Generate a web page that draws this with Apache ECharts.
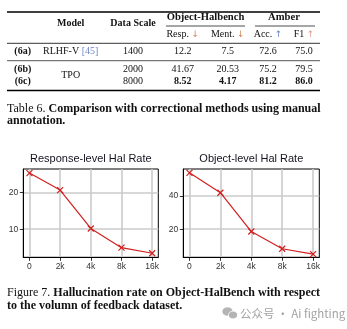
<!DOCTYPE html>
<html>
<head>
<meta charset="utf-8">
<script src="https://cdn.jsdelivr.net/npm/echarts@6/dist/echarts.min.js"></script>
<style>
html,body{margin:0;padding:0;background:#fff;}
#c{width:347px;height:329px;}
</style>
</head>
<body>
<div id="c"></div>
<script>
// ---- chart data ----
const xLabels = ['0', '2k', '4k', '8k', '16k'];
const responseRate = [25.2, 20.6, 10.2, 5.0, 3.5];
const objectRate = [53.7, 41.8, 18.6, 8.3, 5.1];
const respTicks = [10, 20];
const objTicks = [20, 40];
const chartTitles = ['Response-level Hal Rate', 'Object-level Hal Rate'];

// ---- table data ----
const rowIds = ['(6a)', '(6b)', '(6c)'];
const dataScale = ['1400', '2000', '8000'];
const respVals = ['12.2', '41.67', '8.52'];
const mentVals = ['7.5', '20.53', '4.17'];
const accVals = ['72.6', '75.2', '81.2'];
const f1Vals = ['75.0', '79.5', '86.0'];
const boldRow = [false, false, true];

const SERIF = '"Liberation Serif", "Times New Roman", serif';
const SANS = '"Liberation Sans", Arial, sans-serif';

const chart = echarts.init(document.getElementById('c'), null, {renderer: 'canvas'});

function txt(text, x, y, opts) {
  opts = opts || {};
  return {
    type: 'text', silent: true,
    style: Object.assign({
      text: text, x: x, y: y,
      fontFamily: SERIF, fontSize: 10, fontWeight: 'normal',
      fill: '#111', align: 'center', verticalAlign: 'middle'
    }, opts)
  };
}
function hline(x1, x2, y, w, c) {
  return {type: 'line', silent: true, shape: {x1: x1, y1: y, x2: x2, y2: y},
    style: {stroke: c || '#000', lineWidth: w}};
}

const colX = {id: 22.7, model: 70.7, scale: 133, resp: 182.7, ment: 227.7, acc: 268, f1: 304};
const rowY = [51.7, 69.3, 81];
const g = [];
// rules
g.push(hline(7, 320, 12, 1.3));
g.push(hline(166, 245, 26, 0.7));
g.push(hline(255, 315, 26, 0.7));
g.push(hline(7, 320, 43.3, 0.8));
g.push(hline(7, 320, 60.7, 1.3, '#777'));
g.push(hline(7, 320, 90.5, 1.3));
// headers
g.push(txt('Model', colX.model, 23.7, {fontWeight: 'bold'}));
g.push(txt('Data Scale', colX.scale, 23.7, {fontWeight: 'bold'}));
g.push(txt('Object-Halbench', 205.5, 17.3, {fontWeight: 'bold', fontSize: 10.6}));
g.push(txt('Amber', 284, 17.3, {fontWeight: 'bold', fontSize: 10.6}));
const subHead = [
  ['Resp. ', '↓', colX.resp, '#d5865e'],
  ['Ment. ', '↓', colX.ment, '#d5865e'],
  ['Acc. ', '↑', colX.acc, '#6a86c0'],
  ['F1 ', '↑', colX.f1, '#e29a8c']
];
subHead.forEach(function (s) {
  g.push({type: 'text', silent: true, style: {
    text: '{a|' + s[0] + '}{b|' + s[1] + '}', x: s[2], y: 34.3,
    align: 'center', verticalAlign: 'middle',
    rich: {a: {fontFamily: SERIF, fontSize: 10, fill: '#111'},
           b: {fontFamily: 'DejaVu Sans', fontSize: 9, fill: s[3]}}
  }});
});
// rows
rowIds.forEach(function (id, i) {
  const w = boldRow[i] ? 'bold' : 'normal';
  g.push(txt(id, colX.id, rowY[i], {fontWeight: 'bold'}));
  g.push(txt(dataScale[i], colX.scale, rowY[i]));
  g.push(txt(respVals[i], colX.resp, rowY[i], {fontWeight: w}));
  g.push(txt(mentVals[i], colX.ment, rowY[i], {fontWeight: w}));
  g.push(txt(accVals[i], colX.acc, rowY[i], {fontWeight: w}));
  g.push(txt(f1Vals[i], colX.f1, rowY[i], {fontWeight: w}));
});
g.push({type: 'text', silent: true, style: {
  text: '{a|RLHF-V }{b|[45]}', x: colX.model, y: rowY[0], align: 'center', verticalAlign: 'middle',
  rich: {a: {fontFamily: SERIF, fontSize: 10, fill: '#111'}, b: {fontFamily: SERIF, fontSize: 10, fill: '#6f86c8'}}
}});
g.push(txt('TPO', colX.model, 75.3));
// captions
function caption(lead, rest, x, y) {
  return {type: 'text', silent: true, style: {
    text: (lead ? '{n|' + lead + '}' : '') + '{b|' + rest + '}', x: x, y: y, align: 'left', verticalAlign: 'middle',
    rich: {n: {fontFamily: SERIF, fontSize: 12, fill: '#111'},
           b: {fontFamily: SERIF, fontSize: 12, fontWeight: 'bold', fill: '#111'}}
  }};
}
g.push(caption('Table 6. ', 'Comparison with correctional methods using manual', 7, 109.3));
g.push(caption('', 'annotation.', 7, 121.3));
g.push(caption('Figure 7. ', 'Hallucination rate on Object-HalBench with respect', 7, 293.3));
g.push(caption('', 'to the volumn of feedback dataset.', 7, 306));
// watermark
g.push({type: 'ellipse', silent: true, shape: {cx: 227.5, cy: 311.5, rx: 5.5, ry: 4.6}, style: {fill: '#b4b4b4', stroke: '#fff', lineWidth: 0.8}});
g.push({type: 'ellipse', silent: true, shape: {cx: 233, cy: 315, rx: 4.6, ry: 3.9}, style: {fill: '#b4b4b4', stroke: '#fff', lineWidth: 0.8}});
g.push({type: 'text', silent: true, style: {text: '公众号 · Ai fighting', x: 240, y: 313.5, align: 'left', verticalAlign: 'middle',
  fontFamily: '"Noto Sans CJK SC", "Noto Sans", sans-serif', fontSize: 11.5, fill: '#a2a2a2'}});
// chart titles
g.push({type: 'text', silent: true, style: {text: chartTitles[0], x: 90.8, y: 159, align: 'center', verticalAlign: 'middle', fontFamily: SANS, fontSize: 11, fill: '#141420'}});
g.push({type: 'text', silent: true, style: {text: chartTitles[1], x: 251.3, y: 159, align: 'center', verticalAlign: 'middle', fontFamily: SANS, fontSize: 11, fill: '#141420'}});

const idx = [0, 1, 2, 3, 4];
function xAxisCfg(gi) {
  return {
    type: 'value', gridIndex: gi, min: -0.2, max: 4.2,
    axisLine: {show: true, onZero: false, lineStyle: {color: '#000', width: 1}},
    axisTick: {show: true, customValues: idx, length: 3.5, lineStyle: {color: '#000', width: 0.8}},
    axisLabel: {customValues: idx, formatter: function (v) { return xLabels[Math.round(v)]; },
      fontFamily: SANS, fontSize: 8.5, color: '#333', margin: 5},
    splitLine: {show: true, lineStyle: {color: '#cbcbcb', width: 1.6}}
  };
}
function yAxisCfg(gi, mn, mx, ticks) {
  return {
    type: 'value', gridIndex: gi, min: mn, max: mx,
    axisLine: {show: true, onZero: false, lineStyle: {color: '#000', width: 1}},
    axisTick: {show: true, customValues: ticks, length: 3.5, lineStyle: {color: '#000', width: 0.8}},
    axisLabel: {customValues: ticks, fontFamily: SANS, fontSize: 8.5, color: '#333', margin: 5},
    splitLine: {show: true, lineStyle: {color: '#cbcbcb', width: 1.6}}
  };
}
const xSym = 'path://M0,0L10,10M10,0L0,10';
function seriesCfg(gi, vals) {
  return {
    type: 'line', xAxisIndex: gi, yAxisIndex: gi,
    data: vals.map(function (v, i) { return [idx[i], v]; }),
    symbol: xSym, symbolSize: 6, showSymbol: true,
    lineStyle: {color: '#d21f1f', width: 1.2},
    itemStyle: {color: 'rgba(0,0,0,0)', borderColor: '#d21f1f', borderWidth: 1.2},
    animation: false, silent: true
  };
}

chart.setOption({
  backgroundColor: '#fff',
  animation: false,
  grid: [
    {left: 23.3, top: 169, width: 135, height: 88.3, show: true, borderColor: '#000', borderWidth: 1, containLabel: false},
    {left: 183.3, top: 169, width: 136, height: 88.3, show: true, borderColor: '#000', borderWidth: 1, containLabel: false}
  ],
  xAxis: [xAxisCfg(0), xAxisCfg(1)],
  yAxis: [yAxisCfg(0, 2.4, 26.3, respTicks), yAxisCfg(1, 3.2, 56, objTicks)],
  series: [seriesCfg(0, responseRate), seriesCfg(1, objectRate)],
  graphic: g
});
</script>
</body>
</html>
